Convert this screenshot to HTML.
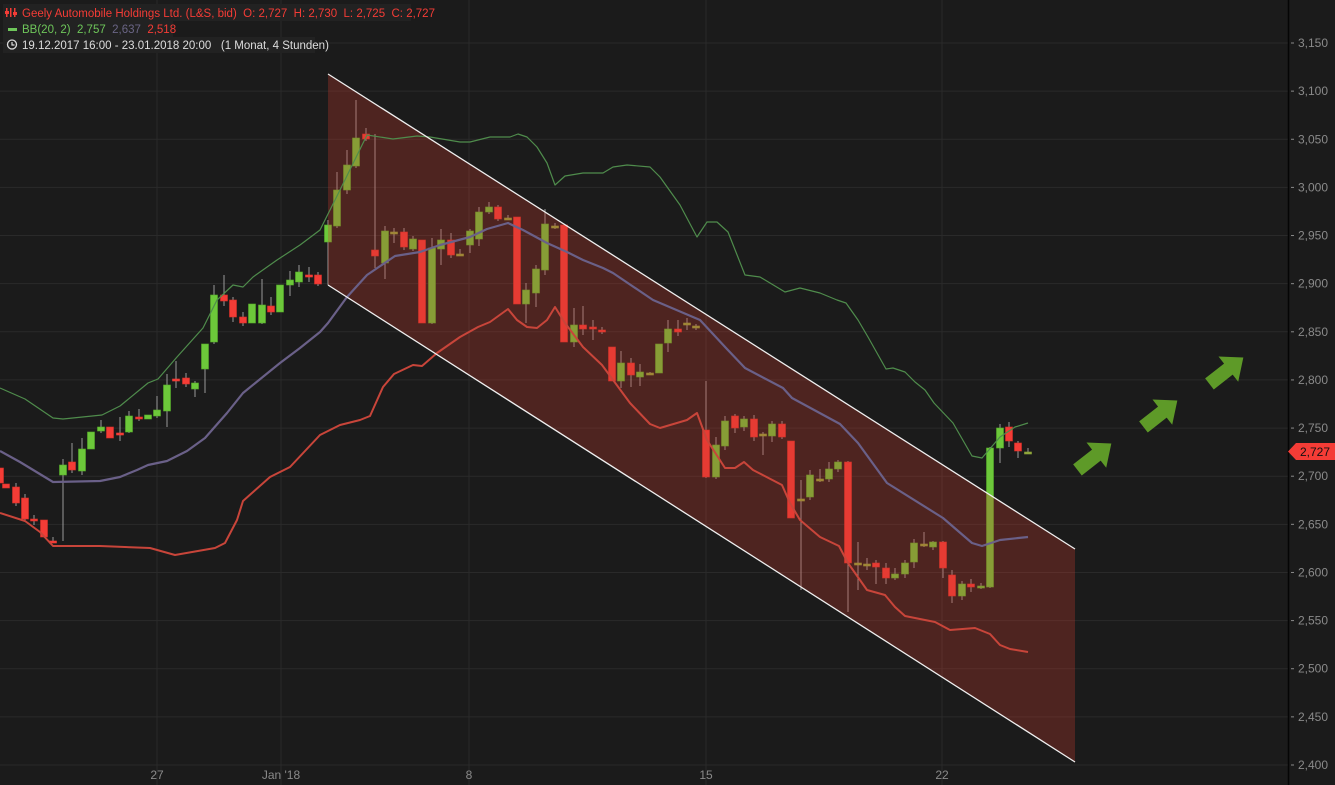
<!DOCTYPE html>
<html><head><meta charset="utf-8"><style>
html,body{margin:0;padding:0;background:#1b1b1b;}
svg{display:block;font-family:"Liberation Sans",sans-serif;}
text{white-space:pre;}
</style></head><body>
<svg id="c" width="1335" height="785" viewBox="0 0 1335 785" xmlns="http://www.w3.org/2000/svg">
<rect width="1335" height="785" fill="#1b1b1b"/>
<g id="grid" stroke="#2a2a2a" stroke-width="1"></g>
<g id="candles"></g>
<polygon points="328,74 1075,549 1075,762 328,285" fill="rgba(200,60,45,0.3)"/>
<g id="bands" fill="none"></g>
<line x1="328" y1="74" x2="1075" y2="549" stroke="#f0f0f0" stroke-width="1.3"/>
<line x1="328" y1="285" x2="1075" y2="762" stroke="#f0f0f0" stroke-width="1.3"/>
<line x1="1288.5" y1="0" x2="1288.5" y2="785" stroke="#050505" stroke-width="1.5"/>
<g id="axis" fill="#8a8a8a" font-size="12"></g>
<g fill="#8a8a8a" font-size="12" text-anchor="middle">
<text x="157" y="779">27</text><text x="281" y="779">Jan '18</text><text x="469" y="779">8</text><text x="706" y="779">15</text><text x="942" y="779">22</text>
</g>
<polygon points="1288,451.5 1296,443 1335,443 1335,460 1296,460" fill="#f43c36"/>
<text x="1300" y="456" font-size="12" fill="#111">2,727</text>
<g fill="#5e9a28">
<g transform="translate(1094,457) rotate(-38)"><polygon points="-21,-7 3,-7 3,-16 22,0 3,16 3,7 -21,7"/></g>
<g transform="translate(1160,414) rotate(-38)"><polygon points="-21,-7 3,-7 3,-16 22,0 3,16 3,7 -21,7"/></g>
<g transform="translate(1226,371) rotate(-38)"><polygon points="-21,-7 3,-7 3,-16 22,0 3,16 3,7 -21,7"/></g>
</g>
<rect x="3" y="4" width="408" height="17" fill="#222"/>
<rect x="3" y="21" width="170" height="16" fill="#222"/>
<rect x="3" y="37" width="312" height="16" fill="#222"/>
<g font-size="11.5">
<g fill="#f43c36"><rect x="6" y="8" width="1.5" height="9"/><rect x="10" y="8" width="1.5" height="9"/><rect x="14" y="8" width="1.5" height="9"/><rect x="5" y="11" width="4" height="3"/><rect x="13" y="12" width="4" height="3"/></g>
<text x="22" y="17" fill="#f43c36" xml:space="preserve">Geely Automobile Holdings Ltd. (L&amp;S, bid)  O: 2,727  H: 2,730  L: 2,725  C: 2,727</text>
<rect x="8" y="28" width="9" height="3" fill="#6ec65a"/>
<text x="22" y="33" fill="#6ec65a" xml:space="preserve">BB(20, 2)  2,757  <tspan fill="#6a6585">2,637</tspan>  <tspan fill="#f43c36">2,518</tspan></text>
<circle cx="12" cy="44.5" r="4.5" fill="none" stroke="#ddd" stroke-width="1.3"/><path d="M12 42v3h2.5" stroke="#ddd" fill="none" stroke-width="1.2"/>
<text x="22" y="49" fill="#ddd" xml:space="preserve">19.12.2017 16:00 - 23.01.2018 20:00   (1 Monat, 4 Stunden)</text>
</g>
</svg>
<script>
var NS="http://www.w3.org/2000/svg";
function el(p,t,a){var e=document.createElementNS(NS,t);for(var k in a)e.setAttribute(k,a[k]);p.appendChild(e);return e;}
var g=document.getElementById('grid'),ax=document.getElementById('axis');
for(var k=0;k<=15;k++){var y=43+k*48.133;el(g,'line',{x1:0,x2:1288,y1:y,y2:y});
var p=3150-k*50;var s=p.toString();s=s[0]+','+s.slice(1);
el(ax,'rect',{x:1291,y:y-0.5,width:3,height:1});var t=el(ax,'text',{x:1298,y:y+4});t.textContent=s;}
[157,281,469,706,942].forEach(function(x){el(g,'line',{x1:x,x2:x,y1:0,y2:785});});
var b=document.getElementById('bands');
function pl(pts,c,w){el(b,'polyline',{points:pts,stroke:c,'stroke-width':w,'stroke-linejoin':'round'});}
pl("0,388 25,399 53,418 63,419 102,415 120,406 148,383 158,379 177,357 203,328 217,300 233,285 243,287 253,277 277,260 300,245 320,230 340,190 367,135 393,139 417,136 430,137 460,142 470,142 490,137 510,137 518,134 527,137 537,147 547,163 555,185 565,176 583,173 603,173 613,167 627,165 650,167 660,177 680,205 697,237 707,222 717,222 728,232 745,275 760,277 785,292 800,288 820,293 837,300 846,303 858,320 868,337 886,369 893,368 905,372 915,382 925,390 934,403 953,423 972,456 982,458 1000,437 1015,427 1028,423","#4f8c4c",1.2);
pl("0,451 20,462 53,482 100,481 120,477 137,470 148,465 167,461 187,451 205,438 227,413 243,393 280,363 300,348 320,332 328,323 347,297 367,275 395,256 420,252 440,245 470,237 487,229 508,223 523,230 547,243 567,252 583,260 603,268 613,273 653,300 700,320 726,348 745,368 783,388 792,398 840,424 858,443 887,483 943,518 972,543 982,546 1000,540 1028,537","#6a6088",2.2);
pl("0,513 25,521 40,532 53,546 100,546 150,548 175,555 215,548 225,543 237,520 243,501 270,477 290,467 320,435 340,425 360,420 370,416 383,387 394,374 413,365 422,366 437,353 460,337 478,327 490,322 508,309 517,320 527,327 537,328 547,320 555,307 565,323 583,347 602,365 630,403 650,424 660,428 687,420 697,413 707,440 725,468 735,468 744,462 753,470 782,485 790,503 800,520 820,537 839,546 848,563 867,590 885,595 895,607 905,616 920,619 935,622 950,630 975,628 990,634 1000,645 1010,649 1028,652","#c8453a",2);
var d=[[0,468,483],[6,484,488],[16,487,503,483,506],[25,498,519,494,522],[34,519,521,515,525],[44,520,537],[53,541,541,537,543],[63,475,465,459,541],[72,462,470,443,473],[82,471,449,438,475],[91,449,432],[101,431,427,420,433],[110,427,438],[120,433,433,417,441],[129,432,416,411,433],[139,417,418,409,421],[148,419,415],[157,416,410,396,418],[167,411,385,374,427],[176,379,379,361,388],[186,378,384,373,387],[195,389,383,381,397],[205,369,344,,393],[214,342,295,285,344],[224,295,301,275,306],[233,300,317,297,322],[243,317,323,312,326],[252,323,304],[262,323,305,279,324],[271,306,312,297,315],[280,312,285],[290,285,280,271,296],[299,282,272,265,287],[309,275,275,267,282],[318,275,284,272,286],
[328,242,225,220,285],[337,226,190,172,228],[347,190,165,150,194],[356,166,138,100,168],[366,134,139,128,141],[375,250,256,134,268],[385,263,231,226,279],[394,232,232,228,243],[404,232,247,228,250],[413,249,239,236,251],[422,240,323],[432,323,248,238,324],[441,249,240,229,265],[451,240,255,233,258],[460,254,254,249,256],[470,245,231,229,253],[479,239,212,207,246],[489,212,207,202,214],[498,207,219,205,221],[508,218,218,215,220],[517,217,304],[526,304,290,283,323],[536,293,269,265,307],[545,270,224,209,275],[555,226,226,223,229],[564,225,342],[574,342,325,308,347],[583,325,329,306,335],[593,327,329,320,340],[602,330,332,327,334],
[612,347,381],[621,381,363,351,388],[631,363,375,358,387],[640,377,372,364,386],[650,373,373,372,375],[659,373,344],[668,343,329,320,352],[678,329,332,320,336],[687,323,323,318,330],[696,326,326,324,330],[706,430,477,381,478],[716,477,445,437,479],[725,446,421,416,450],[735,416,428,414,433],[744,427,419,416,431],[754,419,437,415,441],[763,434,434,432,455],[772,436,424,421,442],[782,424,437,421,439],[791,441,518],[801,499,499,480,590],[810,497,475,470,500],[820,479,479,469,482],[829,479,469,462,482],[838,469,462,460,472],[848,462,563,461,612],[858,563,563,542,590],[867,564,564,558,570],[876,563,567,560,584],[886,568,578,563,584],[895,578,574,568,580],[905,574,563,560,578],[914,562,543,539,568],[924,544,544,532,547],[933,547,542,541,550],[943,542,568,541,578],[952,575,596,570,603],[962,596,584,581,600],[971,584,587,579,592],[981,587,586,583,589],[990,587,448,447,588],[1000,448,428,424,463],[1009,427,441,422,447],[1018,443,451,441,458],[1028,452,452,448,454]];
var cg=document.getElementById('candles');
d.forEach(function(c){var x=c[0],o=c[1],cl=c[2],h=c[3]||Math.min(o,cl),l=c[4]||Math.max(o,cl);
var col=cl>o?'#f43c36':(cl<o?'#6cc83a':'#f43c36');
if(cl==o){col=(x>=328&&x<=1075)?'#8fa63a':'#f43c36';}
el(cg,'line',{x1:x,x2:x,y1:h,y2:l,stroke:'#9a9a9a','stroke-width':1});
var top=Math.min(o,cl),hh=Math.max(Math.abs(cl-o),2);
el(cg,'rect',{x:x-3.5,y:top,width:7,height:hh,fill:col,stroke:cl>o?'#d83028':(cl<o?'#58b02a':col),'stroke-width':0.6});});
</script>
</body></html>
